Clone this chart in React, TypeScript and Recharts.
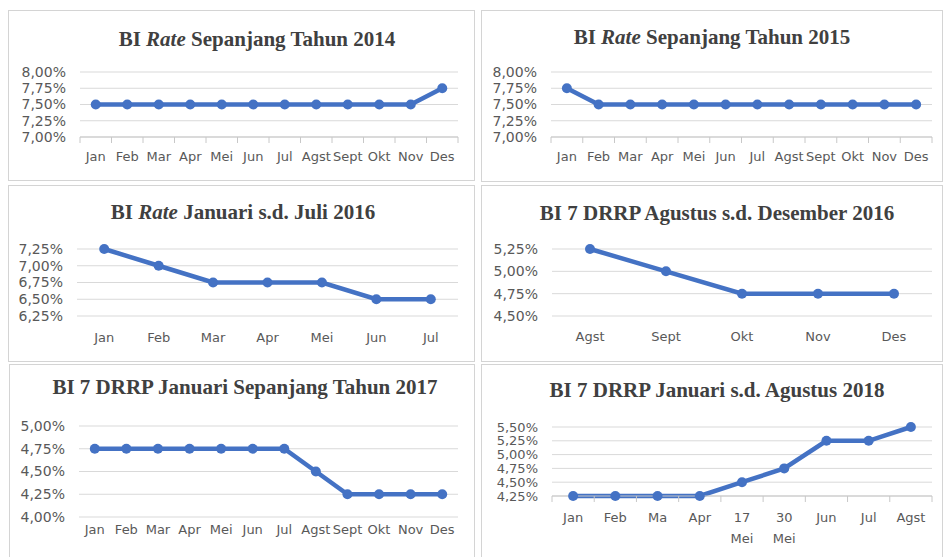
import React from "react";
import { LineChart, Line, XAxis, YAxis, CartesianGrid } from "recharts";

const months = ["Jan", "Feb", "Mar", "Apr", "Mei", "Jun", "Jul", "Agst", "Sept", "Okt", "Nov", "Des"];
const rate2014 = [7.5, 7.5, 7.5, 7.5, 7.5, 7.5, 7.5, 7.5, 7.5, 7.5, 7.5, 7.75];
const rate2015 = [7.75, 7.5, 7.5, 7.5, 7.5, 7.5, 7.5, 7.5, 7.5, 7.5, 7.5, 7.5];
const ticksRate1415 = [7, 7.25, 7.5, 7.75, 8];

const months2016a = ["Jan", "Feb", "Mar", "Apr", "Mei", "Jun", "Jul"];
const rate2016a = [7.25, 7.0, 6.75, 6.75, 6.75, 6.5, 6.5];
const ticks2016a = [6.25, 6.5, 6.75, 7.0, 7.25];

const months2016b = ["Agst", "Sept", "Okt", "Nov", "Des"];
const rate2016b = [5.25, 5.0, 4.75, 4.75, 4.75];
const ticks2016b = [4.5, 4.75, 5.0, 5.25];

const rate2017 = [4.75, 4.75, 4.75, 4.75, 4.75, 4.75, 4.75, 4.5, 4.25, 4.25, 4.25, 4.25];
const ticks2017 = [4.0, 4.25, 4.5, 4.75, 5.0];

const months2018 = ["Jan", "Feb", "Ma", "Apr", "17 Mei", "30 Mei", "Jun", "Jul", "Agst"];
const rate2018 = [4.25, 4.25, 4.25, 4.25, 4.5, 4.75, 5.25, 5.25, 5.5];
const ticks2018 = [4.25, 4.5, 4.75, 5.0, 5.25, 5.5];

const BLUE = "#4472C4";
const GRID = "#d9d9d9";
const TEXT = "#595959";
const FONT = "'DejaVu Sans', sans-serif";
const SERIF = "'Liberation Serif', 'Times New Roman', serif";

const pct = (v: number) => v.toFixed(2).replace(".", ",") + "%";
const rows = (labels: string[], values: number[]) => labels.map((m, i) => ({ m, v: values[i] }));

function MonthTick(props: any) {
  const { x, y, payload, index, gap, marks, count, half } = props;
  const axisY = y - gap;
  const parts = String(payload.value).split(" ");
  return (
    <g>
      {marks && <line x1={x - half} x2={x - half} y1={axisY} y2={axisY + 6} stroke="#c8c8c8" />}
      {marks && index === count - 1 && (
        <line x1={x + half} x2={x + half} y1={axisY} y2={axisY + 6} stroke="#c8c8c8" />
      )}
      <text x={x} y={y} textAnchor="middle" fill={TEXT} fontSize={13} fontFamily={FONT}>
        {parts.map((p, i) => (
          <tspan key={i} x={x} dy={i === 0 ? "0.71em" : 21}>
            {p}
          </tspan>
        ))}
      </text>
    </g>
  );
}

type PanelProps = {
  box: [number, number, number, number];
  plot: [number, number, number, number];
  title: React.ReactNode;
  titleX: number;
  titleBase: number;
  labels: string[];
  values: number[];
  ticks: number[];
  gap: number;
  marks: boolean;
  yFont?: number;
};

function Panel({ box, plot, title, titleX, titleBase, labels, values, ticks, gap, marks, yFont = 14 }: PanelProps) {
  const [l, t, r, b] = box;
  const [pl, pt, pr, pb] = plot;
  const w = r - l;
  const h = b - t;
  const xh = 30;
  const half = (pr - pl) / labels.length / 2;
  const data = rows(labels, values);
  return (
    <>
      <div
        style={{
          position: "absolute",
          left: l,
          top: t,
          width: w - 2,
          height: h - 2,
          border: "1px solid #d4d4d4",
        }}
      />
      <div
        style={{
          position: "absolute",
          left: titleX - 300,
          width: 600,
          top: titleBase - 17.6,
          lineHeight: "21px",
          textAlign: "center",
          fontFamily: SERIF,
          fontWeight: "bold",
          fontSize: 21,
          color: "#404040",
          whiteSpace: "nowrap",
        }}
      >
        {title}
      </div>
      <div style={{ position: "absolute", left: l, top: t }}>
        <LineChart
          width={w}
          height={h}
          data={data}
          margin={{ top: pt - t, right: r - pr, left: 0, bottom: b - pb - xh }}
        >
          <CartesianGrid vertical={false} stroke={GRID} />
          <XAxis
            dataKey="m"
            height={xh}
            interval={0}
            padding={{ left: half, right: half }}
            axisLine={marks ? { stroke: "#c8c8c8" } : false}
            tickLine={false}
            tickSize={0}
            tickMargin={gap}
            tick={(p: any) => (
              <MonthTick {...p} gap={gap} marks={marks} count={labels.length} half={half} />
            )}
          />
          <YAxis
            width={pl - l}
            domain={[ticks[0], ticks[ticks.length - 1]]}
            ticks={ticks}
            interval={0}
            axisLine={false}
            tickLine={false}
            tickSize={0}
            tickMargin={14}
            tickFormatter={pct}
            tick={{ fill: TEXT, fontSize: yFont, fontFamily: FONT }}
          />
          <Line
            dataKey="v"
            stroke={BLUE}
            strokeWidth={4.5}
            dot={{ r: 5, fill: BLUE, stroke: BLUE, strokeWidth: 0 }}
            isAnimationActive={false}
          />
        </LineChart>
      </div>
    </>
  );
}

export default function App() {
  return (
    <div
      style={{
        position: "absolute",
        left: 0,
        top: 0,
        width: 944,
        height: 557,
        overflow: "hidden",
        background: "#fff",
      }}
    >
      <Panel
        box={[8, 10, 475, 181]}
        plot={[80, 72, 458, 137]}
        title={<>BI <i>Rate</i> Sepanjang Tahun 2014</>}
        titleX={257}
        titleBase={47}
        labels={months}
        values={rate2014}
        ticks={ticksRate1415}
        gap={15}
        marks
      />
      <Panel
        box={[481, 10, 943, 182]}
        plot={[551, 72, 932, 137]}
        title={<>BI <i>Rate</i> Sepanjang Tahun 2015</>}
        titleX={712}
        titleBase={45}
        labels={months}
        values={rate2015}
        ticks={ticksRate1415}
        gap={15}
        marks
      />
      <Panel
        box={[8, 185, 475, 362]}
        plot={[77, 249, 458, 316]}
        title={<>BI <i>Rate</i> Januari s.d. Juli 2016</>}
        titleX={243}
        titleBase={220}
        labels={months2016a}
        values={rate2016a}
        ticks={ticks2016a}
        gap={17}
        marks={false}
      />
      <Panel
        box={[481, 185, 943, 362]}
        plot={[552, 249, 932, 316]}
        title={<>BI 7 DRRP Agustus s.d. Desember 2016</>}
        titleX={717}
        titleBase={221}
        labels={months2016b}
        values={rate2016b}
        ticks={ticks2016b}
        gap={16}
        marks={false}
      />
      <Panel
        box={[9, 364, 475, 560]}
        plot={[79, 426, 458, 517]}
        title={<>BI 7 DRRP Januari Sepanjang Tahun 2017</>}
        titleX={245}
        titleBase={395}
        labels={months}
        values={rate2017}
        ticks={ticks2017}
        gap={8}
        marks={false}
      />
      <Panel
        box={[481, 364, 943, 560]}
        plot={[552, 427, 932, 496]}
        title={<>BI 7 DRRP Januari s.d. Agustus 2018</>}
        titleX={717}
        titleBase={398}
        labels={months2018}
        values={rate2018}
        ticks={ticks2018}
        gap={17}
        marks
        yFont={13}
      />
    </div>
  );
}
